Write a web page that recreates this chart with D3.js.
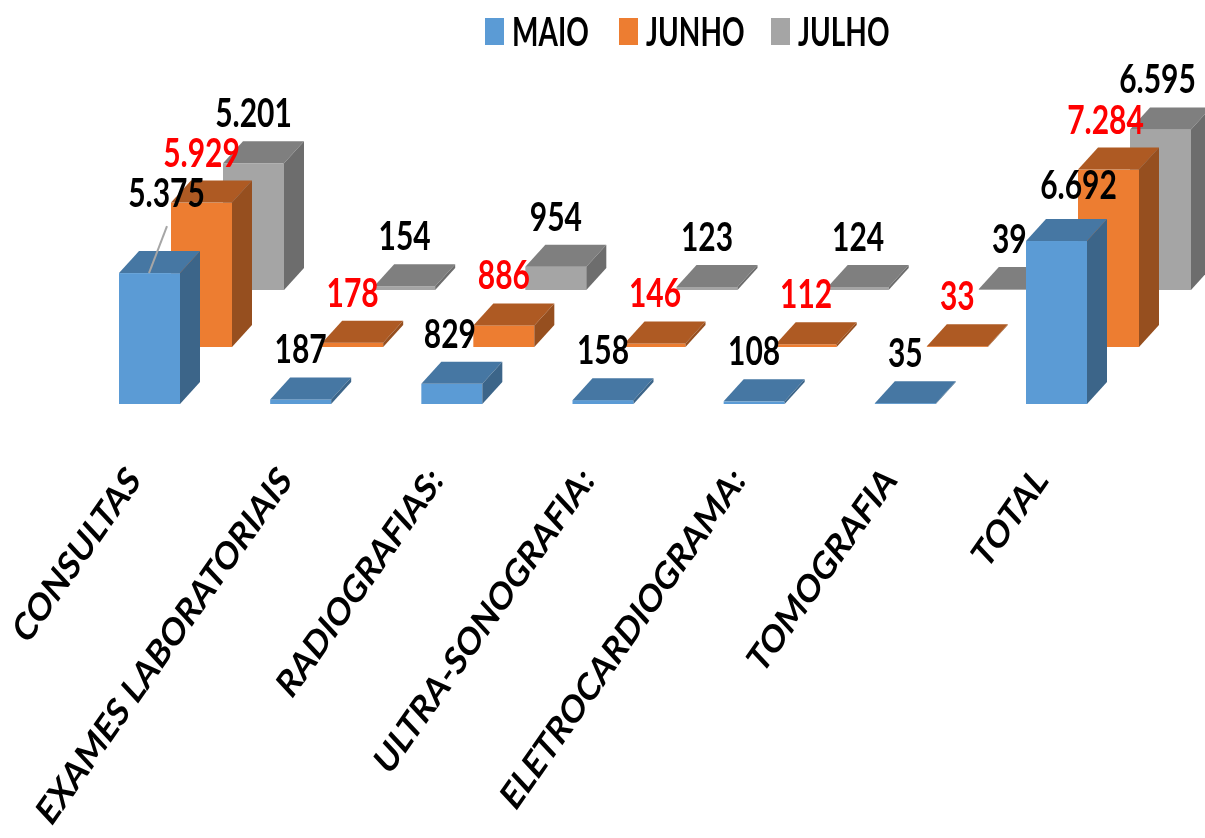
<!DOCTYPE html>
<html>
<head>
<meta charset="utf-8">
<script src="https://cdn.jsdelivr.net/npm/d3@7"></script>
<style>
  html, body { margin: 0; padding: 0; background: #fff; }
  svg { display: block; filter: blur(0.6px); }
  text { font-family: Lato, "Liberation Sans", sans-serif; }
</style>
</head>
<body>
<svg></svg>
<script>
let categories = ['CONSULTAS', 'EXAMES LABORATORIAIS', 'RADIOGRAFIAS:', 'ULTRA-SONOGRAFIA:', 'ELETROCARDIOGRAMA:', 'TOMOGRAFIA', 'TOTAL'];
let seriesNames = ['MAIO', 'JUNHO', 'JULHO'];
let maio = [5375, 187, 829, 158, 108, 35, 6692];
let junho = [5929, 178, 886, 146, 112, 33, 7284];
let julho = [5201, 154, 954, 123, 124, 39, 6595];
let labelFormat = ['5.375', '187', '829', '158', '108', '35', '6.692',
                   '5.929', '178', '886', '146', '112', '33', '7.284',
                   '5.201', '154', '954', '123', '124', '39', '6.595'];

let width = 1205;
let height = 838;

let barWidth = 61;
let depthX = 20;
let depthY = 22;

let frontColors = ['#5b9bd5', '#ed7d31', '#a5a5a5'];
let topColors = ['#4677a3', '#ae5a23', '#7f7f7f'];
let sideColors = ['#3c6589', '#964f1f', '#6d6d6d'];
let labelColors = ['#000', '#f00', '#000'];

let svg = d3.select('svg')
  .attr('width', width)
  .attr('height', height)

let xScale = d3.scalePoint()
  .domain(categories)
  .range([119, 1026])

let yScale = d3.scaleLinear()
  .domain([0, 7284])
  .range([0, -177.4])

// each series sits further back on the floor of the 3d chart
let seriesX = d3.scalePoint().domain(seriesNames).range([0, 104])
let seriesY = d3.scalePoint().domain(seriesNames).range([404, 290])

let bars = [];
[maio, junho, julho].forEach((vals, s) => {
  vals.forEach((v, i) => {
    bars.push({series: s, cat: i, value: v, label: labelFormat[s * 7 + i]});
  })
})

let left = (d) => xScale(categories[d.cat]) + seriesX(seriesNames[d.series]);
let base = (d) => seriesY(seriesNames[d.series]);
let top_ = (d) => base(d) + yScale(d.value);

let drawBars = () => {
  // back to front, so blue covers orange covers gray
  let order = bars.slice().sort((a, b) => b.series - a.series || a.cat - b.cat);

  let g = svg.append('g').selectAll('g')
    .data(order)
    .enter()
    .append('g')
    .attr('class', 'bar')

  g.append('rect')
    .attr('x', left)
    .attr('y', top_)
    .attr('width', barWidth)
    .attr('height', (d) => base(d) - top_(d))
    .attr('fill', (d) => frontColors[d.series])

  g.append('polygon')
    .attr('points', (d) => {
      let x = left(d), t = top_(d);
      return [[x, t], [x + depthX, t - depthY], [x + barWidth + depthX, t - depthY], [x + barWidth, t]].join(' ');
    })
    .attr('fill', (d) => topColors[d.series])

  g.append('polygon')
    .attr('points', (d) => {
      let x = left(d) + barWidth, t = top_(d), b = base(d);
      return [[x, t], [x + depthX, t - depthY], [x + depthX, b - depthY], [x, b]].join(' ');
    })
    .attr('fill', (d) => sideColors[d.series])
}

let drawLabels = () => {
  // leader line of the label that was moved by hand in the original
  let moved = bars.find((d) => d.label === '5.375');
  svg.append('line')
    .attr('x1', left(moved) + 30)
    .attr('y1', top_(moved))
    .attr('x2', left(moved) + 48)
    .attr('y2', top_(moved) - 47)
    .attr('stroke', '#a6a6a6')
    .attr('stroke-width', 2)

  let nudges = {'5.375': [17, -30], '6.692': [22, -6], '7.284': [-3, 0], '6.595': [-3, 0], '829': [-2, 0]};

  svg.append('g').selectAll('text')
    .data(bars)
    .enter()
    .append('text')
    .attr('class', 'label')
    .attr('transform', (d) => {
      let n = nudges[d.label] || [0, 0];
      return `translate(${left(d) + barWidth / 2 + n[0]}, ${top_(d) - depthY - 14 + n[1]}) scale(0.75, 1)`;
    })
    .attr('text-anchor', 'middle')
    .attr('font-size', 40)
    .attr('fill', (d) => labelColors[d.series])
    .style('font-weight', 'bold')
    .text((d) => d.label)
}

let drawAxis = () => {
  let axis = d3.axisBottom(xScale).tickSize(0);
  let g = svg.append('g')
    .attr('id', 'x-axis')
    .attr('transform', `translate(6, 464)`)
    .call(axis)

  g.select('.domain').remove();

  g.selectAll('text')
    .attr('text-anchor', 'end')
    .attr('fill', '#000')
    .attr('font-size', 34)
    .style('font-family', 'Lato, "Liberation Sans", sans-serif')
    .style('font-weight', 'bold')
    .attr('dy', '0.7em')
    .attr('y', 0)
    .attr('transform', 'rotate(-55) skewX(-12) scale(1.03, 1)')
}

let drawLegend = () => {
  let legendX = [485, 619, 771];
  let g = svg.append('g').selectAll('g')
    .data(seriesNames)
    .enter()
    .append('g')
    .attr('transform', (d, i) => `translate(${legendX[i]}, 18)`)

  g.append('rect')
    .attr('width', 19)
    .attr('height', 27)
    .attr('fill', (d, i) => frontColors[i])

  g.append('text')
    .attr('transform', 'translate(27, 28) scale(0.7, 1)')
    .attr('font-size', 40)
    .style('font-weight', 'bold')
    .text((d) => d)
}

drawBars()
drawLabels()
drawAxis()
drawLegend()
</script>
</body>
</html>
